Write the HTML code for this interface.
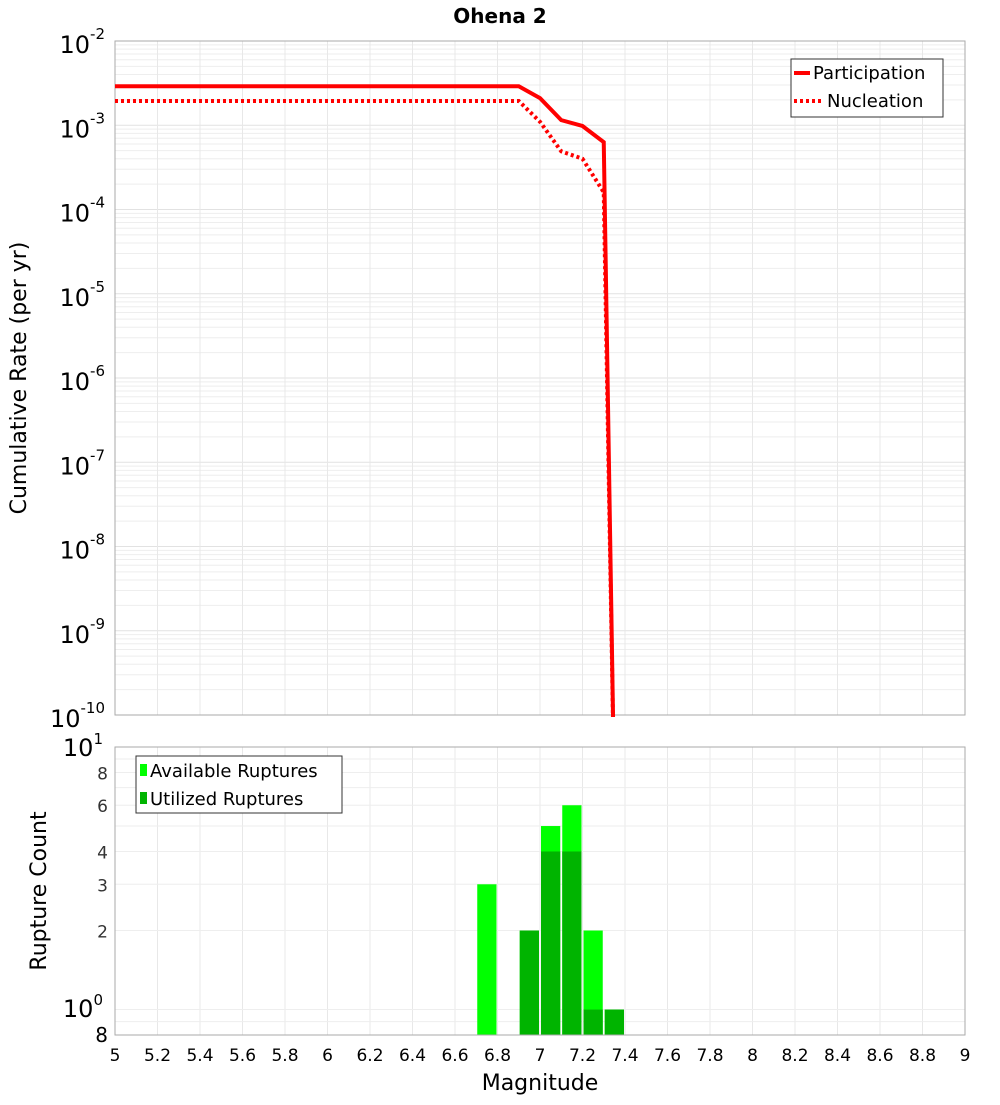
<!DOCTYPE html>
<html><head><meta charset="utf-8"><style>
body{margin:0;background:#fff;width:1000px;height:1100px;overflow:hidden}
svg{font-family:"DejaVu Sans","Liberation Sans",sans-serif}
</style></head><body>
<svg id="c" width="1000" height="1100" xmlns="http://www.w3.org/2000/svg">
<text x="500" y="23" text-anchor="middle" font-size="20" font-weight="bold">Ohena 2</text>
<text transform="translate(26,378) rotate(-90)" text-anchor="middle" font-size="22">Cumulative Rate (per yr)</text>
<text transform="translate(46,891) rotate(-90)" text-anchor="middle" font-size="22">Rupture Count</text>
<text x="540" y="1090" text-anchor="middle" font-size="22">Magnitude</text>
<g id="topPlot"></g><g id="botPlot"></g>
</svg>
<script>
const partMags=[5,6.9,7.0,7.1,7.2,7.3,7.35];
const partRates=[2.9e-3,2.9e-3,2.1e-3,1.15e-3,9.8e-4,6.3e-4,1e-11];
const nuclMags=[5,6.9,7.0,7.1,7.2,7.3,7.35];
const nuclRates=[1.94e-3,1.94e-3,1.1e-3,4.9e-4,4e-4,1.6e-4,1e-11];
const binCenters=[6.75,6.95,7.05,7.15,7.25,7.35];
const availCounts=[3,2,5,6,2,1];
const usedCounts=[0,2,4,4,1,1];
const xTicks=[5,5.2,5.4,5.6,5.8,6,6.2,6.4,6.6,6.8,7,7.2,7.4,7.6,7.8,8,8.2,8.4,8.6,8.8,9];
const topExps=[-2,-3,-4,-5,-6,-7,-8,-9,-10];
const botTicks=[2,3,4,6,8];

const NS="http://www.w3.org/2000/svg";
const L=115,R=965,T1=41,B1=715,T2=747,B2=1035;
const xs=m=>L+(m-5)*(R-L)/4;
const yTop=v=>T1+(-2-Math.log10(v))*(B1-T1)/8;
const yBot=v=>T2+(1-Math.log10(v))*(B2-T2)/(1-Math.log10(0.8));
function el(p,t,a){const e=document.createElementNS(NS,t);for(const k in a)e.setAttribute(k,a[k]);p.appendChild(e);return e;}
const topG=document.getElementById('topPlot'),botG=document.getElementById('botPlot');





for(let e=-10;e<-2;e++){for(let k=1;k<10;k++){const y=yTop(k*Math.pow(10,e));
 const g=el(topG,'line',{x1:L,x2:R,y1:y,y2:y,stroke:k==1?'#e2e2e2':'#eeeeee','stroke-width':1});
 
 }}
for(const tk of xTicks){const x=xs(tk);
 let g=el(topG,'line',{x1:x,x2:x,y1:T1,y2:B1,stroke:'#e8e8e8'});
 
 
 g=el(botG,'line',{x1:x,x2:x,y1:T2,y2:B2,stroke:'#e8e8e8'});
 
 
 const tx=el(botG,'text',{x:x,y:1061,'text-anchor':'middle','font-size':17});tx.textContent=String(tk);
 
 }
for(const e of topExps){const y=yTop(Math.pow(10,e));
 const tx=el(topG,'text',{x:105,y:y+12,'text-anchor':'end','font-size':24});
 
 
 tx.textContent='10';const s=el(tx,'tspan',{dy:-14,'font-size':15});s.textContent=String(e);}
let f=el(topG,'rect',{x:L,y:T1,width:R-L,height:B1-T1,fill:'none',stroke:'#aaa'});


let clip=el(topG,'clipPath',{id:'cp'});el(clip,'rect',{x:L,y:T1,width:R-L,height:B1-T1+2});
let p=el(topG,'polyline',{points:nuclMags.map((m,i)=>xs(m)+','+yTop(nuclRates[i])).join(' '),fill:'none',stroke:'#f00','stroke-width':4,'stroke-dasharray':'3 3','clip-path':'url(#cp)'});


p=el(topG,'polyline',{points:partMags.map((m,i)=>xs(m)+','+yTop(partRates[i])).join(' '),fill:'none',stroke:'#f00','stroke-width':4,'clip-path':'url(#cp)'});


let lg=el(topG,'g',{});


el(lg,'rect',{x:791,y:59,width:152,height:58,fill:'#fff',stroke:'#333'});
el(lg,'line',{x1:794,x2:810,y1:73,y2:73,stroke:'#f00','stroke-width':4});
el(lg,'line',{x1:794,x2:822,y1:101,y2:101,stroke:'#f00','stroke-width':4,'stroke-dasharray':'3 3'});
let t=el(lg,'text',{x:813,y:79,'font-size':18});t.textContent='Participation';


t=el(lg,'text',{x:827,y:107,'font-size':18});t.textContent='Nucleation';



for(const v of [0.9,1,2,3,4,5,6,7,8,9]){const y=yBot(v);
 const g=el(botG,'line',{x1:L,x2:R,y1:y,y2:y,stroke:'#eeeeee'});
 
 }
for(const v of botTicks){const tx=el(botG,'text',{x:108,y:yBot(v)+7,'text-anchor':'end','font-size':17,fill:'#333'});tx.textContent=String(v);
 
 }
function pow(x,y,e){const tx=el(botG,'text',{x:x,y:y,'text-anchor':'end','font-size':24});tx.textContent='10';
 const s=el(tx,'tspan',{dy:-12,'font-size':15});s.textContent=e;
 
 }
pow(103,756,'1');pow(103,1017,'0');
t=el(botG,'text',{x:108,y:1042,'text-anchor':'end','font-size':20});t.textContent='8';


const bw=(R-L)/40;
binCenters.forEach((m,i)=>{
 if(availCounts[i]>0){const y=yBot(availCounts[i]);const r=el(botG,'rect',{x:xs(m)-bw/2+1,y:y,width:bw-2,height:B2-y,fill:'#00ff00'});
  
  }
 if(usedCounts[i]>0){const y=yBot(usedCounts[i]);const r=el(botG,'rect',{x:xs(m)-bw/2+1,y:y,width:bw-2,height:B2-y,fill:'#00b400'});
  
  }
});
f=el(botG,'rect',{x:L,y:T2,width:R-L,height:B2-T2,fill:'none',stroke:'#aaa'});


lg=el(botG,'g',{});


el(lg,'rect',{x:136,y:756,width:206,height:57,fill:'#fff',stroke:'#333'});
el(lg,'rect',{x:140,y:764,width:7,height:12,fill:'#00ff00'});
el(lg,'rect',{x:140,y:792,width:7,height:12,fill:'#00b400'});
t=el(lg,'text',{x:150,y:777,'font-size':18});t.textContent='Available Ruptures';


t=el(lg,'text',{x:150,y:805,'font-size':18});t.textContent='Utilized Ruptures';


</script>
</body></html>
